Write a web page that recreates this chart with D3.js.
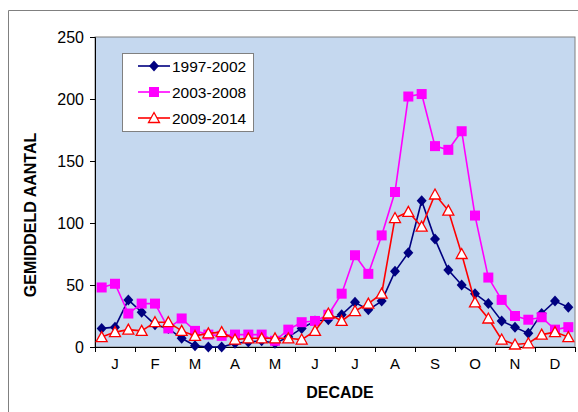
<!DOCTYPE html>
<html><head><meta charset="utf-8">
<script src="https://cdn.jsdelivr.net/npm/d3@7"></script>
<style>body{margin:0;background:#fff;}svg{display:block;font-family:Arial,"Liberation Sans",sans-serif;}</style>
</head><body>
<svg id="c" width="578" height="412"></svg>
<script>
const months = ["J","F","M","A","M","J","J","A","S","O","N","D"];
const yTicks = [0,50,100,150,200,250];
const seriesNames = ["1997-2002","2003-2008","2009-2014"];
const s1997 = [15,16,38,28,18,15,7,1,0,0,3,4,5,3,8,15,21,22,26,36,30,37,61,76,118,87,62,50,43,35,21,16,11,27,37,32];
const s2003 = [48,51,27,35,35,15,23,13,10,9,10,10,10,5,14,20,21,26,43,74,59,90,125,202,204,162,159,174,106,56,38,25,22,24,14,16];
const s2009 = [8,12,14,13,20,20,13,9,11,12,6,7,7,7,7,6,13,27,21,29,35,43,104,109,97,123,110,75,36,23,6,2,3,10,12,8];

const svg = d3.select("#c");
const L = 95, R = 575, T = 37, B = 347;

// outer frame
svg.append("path").attr("d","M8.5,412 L8.5,10.5 L578,10.5").attr("fill","none").attr("stroke","#808080").attr("stroke-width",1);

const decades = d3.range(36);
const x = d3.scalePoint().domain(decades).range([L, R]).padding(0.5);
const y = d3.scaleLinear().domain([0,250]).range([B, T]);

// plot background
svg.append("rect").attr("x",L).attr("y",T).attr("width",R-L).attr("height",B-T)
  .attr("fill","#C5D8EF").attr("stroke","#808080").attr("stroke-width",1);

// y axis
const yAx = svg.append("g").attr("transform",`translate(${L},0)`)
  .call(d3.axisLeft(y).tickValues(yTicks).tickSize(5).tickPadding(6));
yAx.select(".domain").attr("stroke","#000");
yAx.selectAll("text").attr("font-size",16).attr("fill","#000").attr("font-family","Arial, Liberation Sans, sans-serif");

// x axis: month boundaries
const xb = d3.scaleLinear().domain([0,12]).range([L,R]);
const xAx = svg.append("g").attr("transform",`translate(0,${B})`)
  .call(d3.axisBottom(xb).tickValues(d3.range(13)).tickSize(5).tickFormat(""));
xAx.select(".domain").attr("stroke","#000");
svg.append("g").selectAll("text").data(months).join("text")
  .attr("x",(d,i)=>xb(i+0.5)).attr("y",369).attr("text-anchor","middle")
  .attr("font-size",15).text(d=>d);

// titles
svg.append("text").attr("x",340).attr("y",398).attr("text-anchor","middle")
  .attr("font-size",16).attr("font-weight","bold").text("DECADE");
svg.append("text").attr("transform","translate(36,215) rotate(-90)").attr("text-anchor","middle")
  .attr("font-size",16).attr("font-weight","bold").text("GEMIDDELD AANTAL");

const line = d3.line().x((d,i)=>x(i)).y(d=>y(d));
const cfg = [
  {data:s1997,color:"#000080",marker:"diamond"},
  {data:s2003,color:"#FF00FF",marker:"square"},
  {data:s2009,color:"#FF0000",marker:"triangle"}
];
function drawMarker(g, type, color, cx, cy){
  if(type==="diamond"){
    g.append("path").attr("d",`M${cx},${cy-5.5} L${cx+5},${cy} L${cx},${cy+5.5} L${cx-5},${cy} Z`).attr("fill",color);
  } else if(type==="square"){
    g.append("rect").attr("x",cx-5).attr("y",cy-5).attr("width",10).attr("height",10).attr("fill",color);
  } else {
    g.append("path").attr("d",`M${cx},${cy-5.5} L${cx+5.5},${cy+4.5} L${cx-5.5},${cy+4.5} Z`).attr("fill","#fff").attr("stroke",color).attr("stroke-width",1.3);
  }
}
const plot = svg.append("g");
cfg.forEach(c=>{
  plot.append("path").datum(c.data).attr("d",line).attr("fill","none").attr("stroke",c.color).attr("stroke-width",1.6);
  const g = plot.append("g");
  c.data.forEach((v,i)=>drawMarker(g,c.marker,c.color,x(i),y(v)));
});

// legend
const lg = svg.append("g");
lg.append("rect").attr("x",122.5).attr("y",53.5).attr("width",131).attr("height",78).attr("fill","#fff").attr("stroke","#808080");
seriesNames.forEach((n,i)=>{
  const yy = 66 + i*26;
  lg.append("line").attr("x1",138).attr("x2",170).attr("y1",yy).attr("y2",yy).attr("stroke",cfg[i].color).attr("stroke-width",1.6);
  drawMarker(lg,cfg[i].marker,cfg[i].color,154,yy);
  lg.append("text").attr("x",172).attr("y",yy+5.5).attr("font-size",15.5).text(n);
});
</script>
</body></html>
